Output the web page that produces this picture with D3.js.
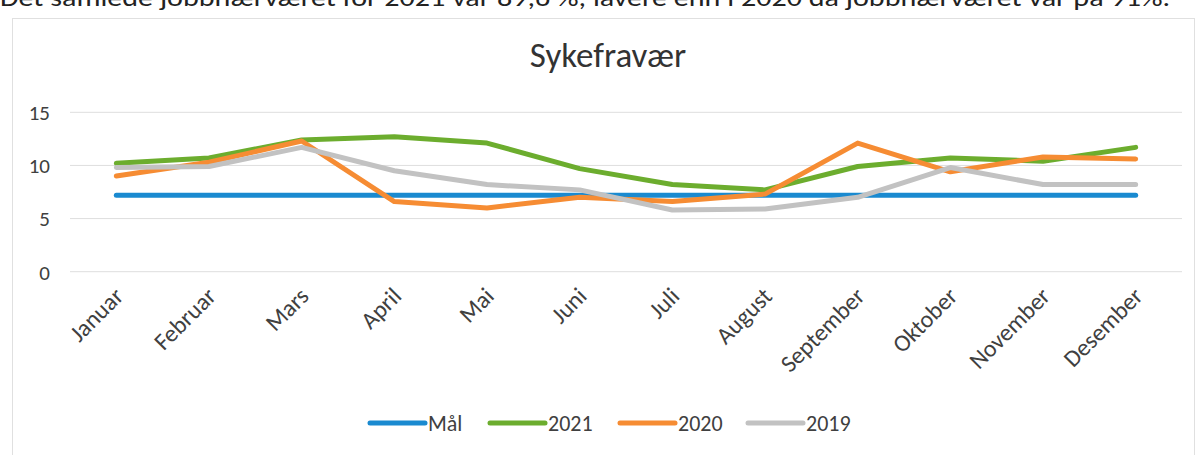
<!DOCTYPE html>
<html>
<head>
<meta charset="utf-8">
<script src="https://cdn.jsdelivr.net/npm/d3@7"></script>
<style>
  body { margin: 0; background: #fff; }
  text { font-family: Carlito, Lato, "Open Sans", sans-serif; fill: #404040; }
</style>
</head>
<body>
<div id="chart"></div>
<script>
const months = ["Januar", "Februar", "Mars", "April", "Mai", "Juni", "Juli",
  "August", "September", "Oktober", "November", "Desember"];

const maal = [7.2, 7.2, 7.2, 7.2, 7.2, 7.2, 7.2, 7.2, 7.2, 7.2, 7.2, 7.2];
const y2021 = [10.2, 10.7, 12.4, 12.7, 12.1, 9.7, 8.2, 7.7, 9.9, 10.7, 10.4, 11.7];
const y2020 = [9.0, 10.3, 12.3, 6.6, 6.0, 7.0, 6.6, 7.3, 12.1, 9.4, 10.8, 10.6];
const y2019 = [9.8, 9.9, 11.7, 9.5, 8.2, 7.7, 5.8, 5.9, 7.0, 9.8, 8.2, 8.2];

const yTicks = [0, 5, 10, 15];

const seriesNames = ["Mål", "2021", "2020", "2019"];
const seriesValues = [maal, y2021, y2020, y2019];
const seriesColors = ["#1a8ad0", "#6cad2e", "#f68c33", "#c2c2c2"];

const introText = "Det samlede jobbnærværet for 2021 var 89,6 %, lavere enn i 2020 da jobbnærværet var på 91%.";

function drawChart() {
  // svg size and plot area
  const w = 1198;
  const h = 455;
  const plot = { left: 70, right: 1182, top: 100, bottom: 271.7 };

  const svg = d3
    .select("#chart")
    .append("svg")
    .attr("width", w)
    .attr("height", h);

  // cut-off sentence above the chart
  svg
    .append("text")
    .attr("x", 0)
    .attr("y", 6)
    .attr("textLength", 1170)
    .attr("lengthAdjust", "spacingAndGlyphs")
    .style("font-size", "24px")
    .style("fill", "#222")
    .text(introText);

  // chart border
  svg
    .append("rect")
    .attr("x", 12.5)
    .attr("y", 18.5)
    .attr("width", 1182)
    .attr("height", 460)
    .attr("fill", "none")
    .attr("stroke", "#e0e0e0");

  // title
  svg
    .append("text")
    .attr("x", 608)
    .attr("y", 67)
    .attr("text-anchor", "middle")
    .style("font-size", "35px")
    .style("fill", "#333")
    .text("Sykefravær");

  // scales
  const xScale = d3
    .scalePoint()
    .domain(months)
    .range([plot.left, plot.right])
    .padding(0.5);

  const yScale = d3
    .scaleLinear()
    .domain([0, 15])
    .range([plot.bottom, 112.3]);

  // gridlines
  svg
    .append("g")
    .selectAll("line")
    .data(yTicks)
    .enter()
    .append("line")
    .attr("x1", plot.left)
    .attr("x2", plot.right)
    .attr("y1", (d) => yScale(d))
    .attr("y2", (d) => yScale(d))
    .attr("stroke", "#dedede")
    .attr("stroke-width", 1);

  // y axis labels
  const yAxis = d3.axisLeft(yScale).tickValues(yTicks).tickSize(0).tickPadding(0);
  const gy = svg
    .append("g")
    .attr("transform", `translate(50, 0)`)
    .call(yAxis);
  gy.select(".domain").remove();
  gy.selectAll("text")
    .style("font-size", "21px")
    .attr("dy", "0.35em");

  // x axis labels, rotated
  const xAxis = d3.axisBottom(xScale).tickSize(0).tickPadding(0);
  const gx = svg
    .append("g")
    .attr("transform", `translate(0, ${plot.bottom})`)
    .call(xAxis);
  gx.select(".domain").remove();
  gx.selectAll("text")
    .style("font-size", "24px")
    .attr("text-anchor", "end")
    .attr("dy", 0)
    .attr("y", 0)
    .attr("transform", "translate(8, 26) rotate(-45)");

  // lines
  const lineFunction = d3
    .line()
    .x((d, i) => xScale(months[i]))
    .y((d) => yScale(d));

  seriesValues.forEach((values, i) => {
    svg
      .append("path")
      .attr("d", lineFunction(values))
      .attr("stroke", seriesColors[i])
      .attr("stroke-width", 5)
      .attr("stroke-linecap", "round")
      .attr("stroke-linejoin", "round")
      .attr("fill", "none");
  });

  // legend
  const legendX = [370, 490, 620, 748];
  const legendY = 423;
  seriesNames.forEach((name, i) => {
    svg
      .append("line")
      .attr("x1", legendX[i])
      .attr("x2", legendX[i] + 55)
      .attr("y1", legendY)
      .attr("y2", legendY)
      .attr("stroke", seriesColors[i])
      .attr("stroke-width", 5)
      .attr("stroke-linecap", "round");

    svg
      .append("text")
      .attr("x", legendX[i] + 58)
      .attr("y", legendY)
      .attr("dy", "0.35em")
      .style("font-size", "22px")
      .text(name);
  });
}

drawChart();
</script>
</body>
</html>
